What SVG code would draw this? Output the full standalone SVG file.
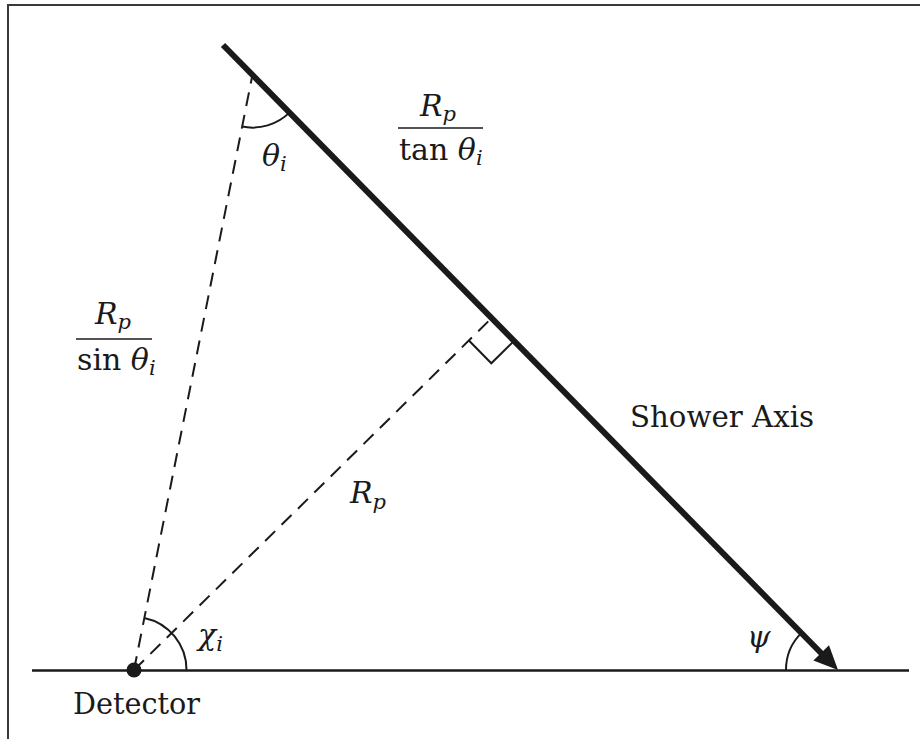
<svg xmlns="http://www.w3.org/2000/svg" width="920" height="739" viewBox="0 0 920 739">
<style>
text{font-family:"DejaVu Serif","Liberation Serif",serif;font-size:30px;fill:#1a1a1a}
.it{font-style:italic}
.s{font-size:21px;font-style:italic}
.ln{stroke:#1a1a1a;fill:none}
.dash{stroke:#1a1a1a;stroke-width:2;stroke-dasharray:14 9;fill:none}
.thin{stroke:#1a1a1a;stroke-width:2;fill:none}
</style>
<rect width="920" height="739" fill="#fff"/>
<path d="M8,739 V5 H920" stroke="#3a3a3a" stroke-width="2" fill="none"/>
<g id="connectors">
<line id="ground" x1="32" y1="670.5" x2="909" y2="670.5" class="ln" stroke-width="2.5"/>
<line id="los" x1="134" y1="670" x2="252.5" y2="74.6" class="dash"/>
<line id="rp-line" x1="134" y1="670" x2="491.7" y2="318" class="dash"/>
<line id="axis" x1="223" y1="45" x2="823" y2="655" class="ln" stroke-width="6"/>
<polygon points="838,670 813.4,660.6 829,645.2" fill="#1a1a1a"/>
<polyline points="468.9,340.5 491.3,363.3 514.1,340.9" class="thin"/>
<path d="M242.2,126.6 A53,53 0 0 0 289.7,112.4" class="thin"/>
<path d="M186.5,670 A53,53 0 0 0 144.3,618" class="thin"/>
<path d="M786,670 A52,52 0 0 1 801.5,632.9" class="thin"/>
</g>
<g id="detector">
<circle cx="134" cy="670" r="7.5" fill="#1a1a1a"/>
<text x="73" y="714" textLength="127" lengthAdjust="spacingAndGlyphs">Detector</text>
</g>
<g id="shower-axis-label">
<text x="630" y="427" textLength="184" lengthAdjust="spacingAndGlyphs">Shower Axis</text>
</g>
<g id="label-theta">
<text class="it" x="262" y="166">θ<tspan class="s" dy="5">i</tspan></text>
</g>
<g id="label-chi">
<text class="it" x="198" y="645">χ<tspan class="s" dy="6">i</tspan></text>
</g>
<g id="label-psi">
<text class="it" x="747" y="647">ψ</text>
</g>
<g id="label-rp">
<text class="it" x="350" y="503">R<tspan class="s" dy="6">p</tspan></text>
</g>
<g id="label-rp-tan">
<text class="it" x="420" y="116">R<tspan class="s" dy="5">p</tspan></text>
<line x1="398" y1="128" x2="483" y2="128" class="ln" stroke-width="1.5"/>
<text x="399" y="160">tan <tspan class="it">θ</tspan><tspan class="s" dy="5">i</tspan></text>
</g>
<g id="label-rp-sin">
<text class="it" x="95" y="324">R<tspan class="s" dy="5">p</tspan></text>
<line x1="76" y1="339" x2="152" y2="339" class="ln" stroke-width="1.5"/>
<text x="77" y="370">sin <tspan class="it">θ</tspan><tspan class="s" dy="5">i</tspan></text>
</g>
</svg>
